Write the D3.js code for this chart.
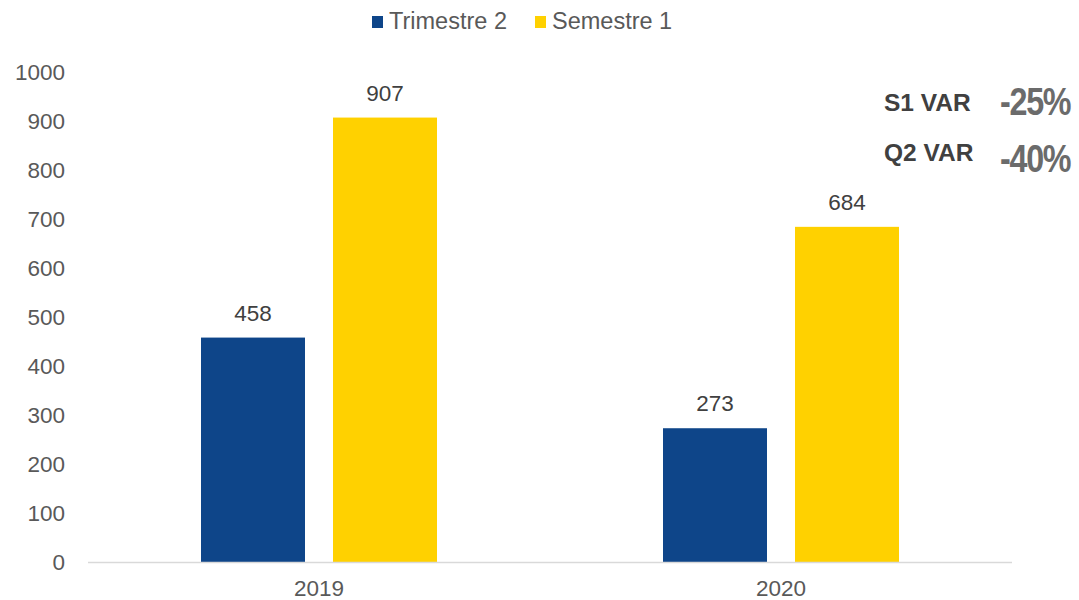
<!DOCTYPE html>
<html>
<head>
<meta charset="utf-8">
<script src="https://cdn.jsdelivr.net/npm/d3@7.9.0/dist/d3.min.js"></script>
<style>
  body { margin: 0; background: #fff; }
  svg { font-family: Arial, "Liberation Sans", sans-serif; }
</style>
</head>
<body>
<svg id="chart" width="1079" height="600"></svg>
<script>
// data
const years = ['2019', '2020'];
const seriesNames = ['Trimestre 2', 'Semestre 1'];
const trimestre2 = [458, 273];
const semestre1 = [907, 684];
const yTicks = [0, 100, 200, 300, 400, 500, 600, 700, 800, 900, 1000];
const varLabels = ['S1 VAR', 'Q2 VAR'];
const varValues = ['-25%', '-40%'];

const colors = ['#0E4589', '#FFD100'];

const svg = d3.select('#chart');
const margin = { left: 88, right: 1012, top: 72, bottom: 562 };

const x = d3.scaleBand().domain(years).range([margin.left, margin.right]);
const y = d3.scaleLinear().domain([0, 1000]).range([margin.bottom, margin.top]);

// inner offsets for the two series
const xs = d3.scalePoint().domain(seriesNames).range([-66, 66]);
const barW = 104;

// y labels (no axis line, no ticks)
svg.append('g')
  .selectAll('text')
  .data(yTicks)
  .join('text')
  .attr('x', 65)
  .attr('y', d => y(d) + 8)
  .attr('text-anchor', 'end')
  .attr('font-size', 22.5)
  .attr('fill', '#595959')
  .text(d => d);

// bars + value labels
const series = [trimestre2, semestre1];
series.forEach((vals, si) => {
  const g = svg.append('g');
  g.selectAll('rect')
    .data(vals)
    .join('rect')
    .attr('x', (d, i) => x(years[i]) + x.bandwidth() / 2 + xs(seriesNames[si]) - barW / 2)
    .attr('y', d => y(d))
    .attr('width', barW)
    .attr('height', d => y(0) - y(d))
    .attr('fill', colors[si]);

  g.selectAll('text')
    .data(vals)
    .join('text')
    .attr('x', (d, i) => x(years[i]) + x.bandwidth() / 2 + xs(seriesNames[si]))
    .attr('y', d => y(d) - 17)
    .attr('text-anchor', 'middle')
    .attr('font-size', 22.5)
    .attr('fill', '#404040')
    .text(d => d);
});

// baseline
svg.append('line')
  .attr('x1', margin.left).attr('x2', margin.right)
  .attr('y1', y(0) + 0.5).attr('y2', y(0) + 0.5)
  .attr('stroke', '#D9D9D9').attr('stroke-width', 1.5);

// x labels
svg.append('g')
  .selectAll('text')
  .data(years)
  .join('text')
  .attr('x', d => x(d) + x.bandwidth() / 2)
  .attr('y', 596)
  .attr('text-anchor', 'middle')
  .attr('font-size', 22.5)
  .attr('fill', '#595959')
  .text(d => d);

// legend
const legendX = [372, 535];
seriesNames.forEach((name, i) => {
  svg.append('rect')
    .attr('x', legendX[i]).attr('y', 16)
    .attr('width', 11).attr('height', 12)
    .attr('fill', colors[i]);
  svg.append('text')
    .attr('x', legendX[i] + 17).attr('y', 29)
    .attr('font-size', 23.5)
    .attr('fill', '#595959')
    .text(name);
});

// variation notes
const varY = [111, 161];
const pctY = [115, 172];
varLabels.forEach((lab, i) => {
  svg.append('text')
    .attr('x', 884).attr('y', varY[i])
    .attr('font-size', 24.5)
    .attr('font-weight', 'bold')
    .attr('fill', '#404040')
    .text(lab);
  // condensed percentage: squeeze horizontally
  svg.append('text')
    .attr('transform', `translate(1000,${pctY[i]}) scale(0.85,1)`)
    .attr('font-size', 38)
    .attr('font-weight', 'bold')
    .attr('letter-spacing', -1.5)
    .attr('fill', '#6b6b6b')
    .text(varValues[i]);
});
</script>
</body>
</html>
